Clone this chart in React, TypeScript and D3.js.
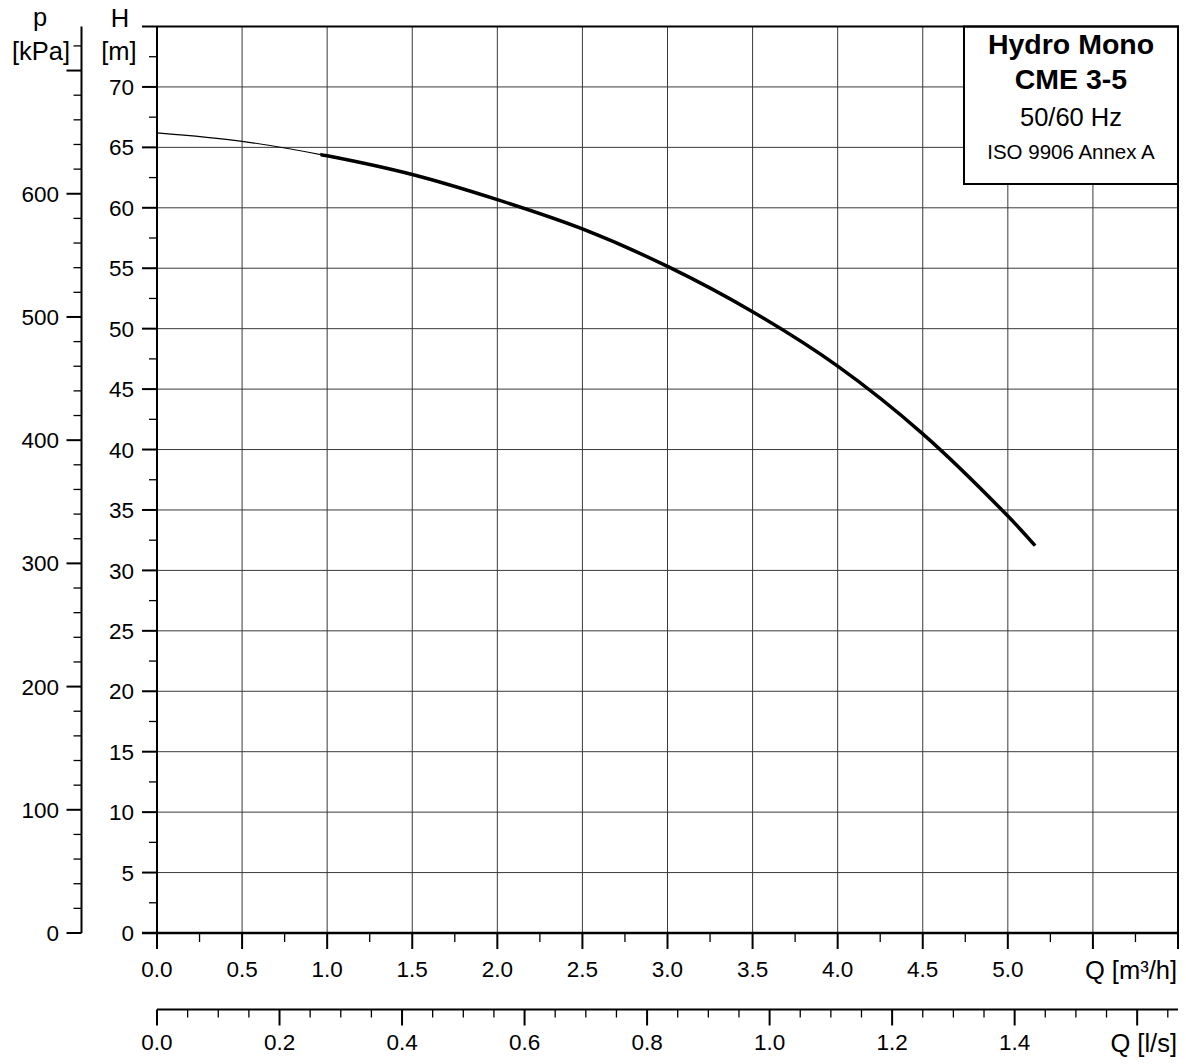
import * as d3 from 'd3'
import { useEffect, useRef } from 'react'

// pump curve: flow Q [m³/h] against head H [m]
const flowM3h = [0, 0.5, 1.0, 1.5, 2.0, 2.5, 3.0, 3.5, 4.0, 4.5, 5.0, 5.16]
const headM = [66.2, 65.5, 64.3, 62.75, 60.67, 58.25, 55.15, 51.4, 46.9, 41.3, 34.5, 32.05]
const minFlow = 0.96 // thin line below this

const headTicks = [0, 5, 10, 15, 20, 25, 30, 35, 40, 45, 50, 55, 60, 65, 70]
const kpaTicks = [0, 100, 200, 300, 400, 500, 600]
const flowTicks = [0, 0.5, 1, 1.5, 2, 2.5, 3, 3.5, 4, 4.5, 5]
const lsTicks = [0, 0.2, 0.4, 0.6, 0.8, 1.0, 1.2, 1.4]
const boxLines = ['Hydro Mono', 'CME 3-5', '50/60 Hz', 'ISO 9906 Annex A']

const W = 1186, H = 1064
const left = 157, right = 1178, top = 26.5, bottom = 933
const font = '"Liberation Sans", Arial, sans-serif'

const chart = (node: SVGSVGElement) => {
  const svg = d3.select(node)
  svg.selectAll('*').remove()

  const x = d3.scaleLinear().domain([0, 6]).range([left, right])
  const xl = d3.scaleLinear().domain([0, 6 / 3.6]).range([left, right])
  const y = d3.scaleLinear().domain([0, 75]).range([bottom, top])
  const yp = d3.scaleLinear().domain([0, 75 * 9.81]).range([bottom, top])

  svg.append('rect').attr('width', W).attr('height', H).attr('fill', '#fff')

  // grid
  const grid = svg.append('g').attr('stroke', '#3a3a3a').attr('stroke-width', 1)
  grid.selectAll('line.v')
    .data(d3.range(1, 12).map(i => i * 0.5))
    .join('line')
      .attr('x1', d => x(d)).attr('x2', d => x(d))
      .attr('y1', top).attr('y2', bottom)
  grid.selectAll('line.h')
    .data(d3.range(1, 15).map(i => i * 5))
    .join('line')
      .attr('x1', left).attr('x2', right)
      .attr('y1', d => y(d)).attr('y2', d => y(d))

  // curve
  const pts = flowM3h.map((q, i) => [q, headM[i]] as [number, number])
  const line = d3.line<[number, number]>()
    .x(d => x(d[0])).y(d => y(d[1]))
    .curve(d3.curveCatmullRom)
  svg.append('clipPath').attr('id', 'dutyClip')
    .append('rect')
      .attr('x', x(minFlow)).attr('y', 0)
      .attr('width', W).attr('height', H)
  svg.append('path').attr('d', line(pts))
    .attr('fill', 'none').attr('stroke', '#000').attr('stroke-width', 1.2)
  svg.append('path').attr('d', line(pts))
    .attr('clip-path', 'url(#dutyClip)')
    .attr('fill', 'none').attr('stroke', '#000').attr('stroke-width', 3.5)

  // legend box
  const bx = 964, by = top, bw = right - bx, bh = 184 - top
  svg.append('rect')
    .attr('x', bx).attr('y', by).attr('width', bw).attr('height', bh)
    .attr('fill', '#fff').attr('stroke', '#000').attr('stroke-width', 2)
  const bt = svg.append('g').attr('font-family', font).attr('text-anchor', 'middle').attr('fill', '#000')
  const sizes = [28.5, 28.5, 25.5, 20.5], weights = ['bold', 'bold', 'normal', 'normal'], bases = [54, 89, 126, 159]
  boxLines.forEach((t, i) => {
    bt.append('text').attr('x', bx + bw / 2).attr('y', bases[i])
      .attr('font-size', sizes[i]).attr('font-weight', weights[i]).text(t)
  })

  const ax = svg.append('g').attr('stroke', '#000').attr('fill', 'none')
  // frame: top, left (H axis), right
  ax.append('path').attr('stroke-width', 2)
    .attr('d', `M${left - 15},${top}H${right}V${bottom + 16}`)
  ax.append('line').attr('stroke-width', 2)
    .attr('x1', left).attr('x2', left).attr('y1', top).attr('y2', bottom)

  // H axis ticks
  ax.selectAll('line.hmaj').data(headTicks).join('line').attr('stroke-width', 2)
    .attr('x1', left - 15).attr('x2', left).attr('y1', d => y(d)).attr('y2', d => y(d))
  ax.selectAll('line.hmin').data(d3.range(0, 15).map(i => i * 5 + 2.5)).join('line').attr('stroke-width', 1.3)
    .attr('x1', left - 8).attr('x2', left).attr('y1', d => y(d)).attr('y2', d => y(d))

  // p axis
  const px = 81.5
  ax.append('line').attr('stroke-width', 2)
    .attr('x1', px).attr('x2', px).attr('y1', top).attr('y2', bottom)
  ax.selectAll('line.pmaj').data(d3.range(0, 8).map(i => i * 100)).join('line').attr('stroke-width', 2)
    .attr('x1', px - 15).attr('x2', px).attr('y1', d => yp(d)).attr('y2', d => yp(d))
  ax.selectAll('line.pmin').data(d3.range(0, 37).map(i => i * 20).filter(d => d % 100 !== 0)).join('line')
    .attr('stroke-width', 1.3)
    .attr('x1', px - 8).attr('x2', px).attr('y1', d => yp(d)).attr('y2', d => yp(d))

  // Q m3/h axis
  ax.append('line').attr('stroke-width', 2.5)
    .attr('x1', left - 15).attr('x2', right).attr('y1', bottom).attr('y2', bottom)
  ax.selectAll('line.qmaj').data(d3.range(0, 13).map(i => i * 0.5)).join('line').attr('stroke-width', 2)
    .attr('x1', d => x(d)).attr('x2', d => x(d)).attr('y1', bottom).attr('y2', bottom + 16)
  ax.selectAll('line.qmin').data(d3.range(0, 12).map(i => i * 0.5 + 0.25)).join('line').attr('stroke-width', 1.3)
    .attr('x1', d => x(d)).attr('x2', d => x(d)).attr('y1', bottom).attr('y2', bottom + 9)

  // Q l/s axis
  const ly = 1009.5
  ax.append('line').attr('stroke-width', 2)
    .attr('x1', left).attr('x2', right).attr('y1', ly).attr('y2', ly)
  ax.selectAll('line.lmaj').data(d3.range(0, 9).map(i => i * 0.2)).join('line').attr('stroke-width', 2)
    .attr('x1', d => xl(d)).attr('x2', d => xl(d)).attr('y1', ly).attr('y2', ly + 16)
  ax.selectAll('line.lmin').data(d3.range(0, 34).map(i => i * 0.05).filter(d => Math.round(d * 100) % 20 !== 0))
    .join('line').attr('stroke-width', 1.3)
    .attr('x1', d => xl(d)).attr('x2', d => xl(d)).attr('y1', ly).attr('y2', ly + 8)

  // labels
  const lab = svg.append('g').attr('font-family', font).attr('fill', '#000').attr('font-size', 22.5)
  lab.selectAll('text.h').data(headTicks).join('text')
    .attr('x', 134).attr('y', d => y(d)).attr('dy', '0.36em').attr('text-anchor', 'end').text(d => d)
  lab.selectAll('text.p').data(kpaTicks).join('text')
    .attr('x', 59).attr('y', d => yp(d)).attr('dy', '0.36em').attr('text-anchor', 'end').text(d => d)
  lab.selectAll('text.q').data(flowTicks).join('text')
    .attr('x', d => x(d)).attr('y', 977).attr('text-anchor', 'middle').text(d => d.toFixed(1))
  lab.selectAll('text.l').data(lsTicks).join('text')
    .attr('x', d => xl(d)).attr('y', 1050).attr('text-anchor', 'middle').text(d => d.toFixed(1))

  const big = svg.append('g').attr('font-family', font).attr('fill', '#000').attr('font-size', 25.5)
  big.append('text').attr('x', 1177).attr('y', 979).attr('text-anchor', 'end').text('Q [m³/h]')
  big.append('text').attr('x', 1177).attr('y', 1052).attr('text-anchor', 'end').text('Q [l/s]')
  big.append('text').attr('x', 40).attr('y', 26).attr('text-anchor', 'middle').text('p')
  big.append('text').attr('x', 41).attr('y', 60).attr('text-anchor', 'middle').text('[kPa]')
  big.append('text').attr('x', 120).attr('y', 27).attr('text-anchor', 'middle').text('H')
  big.append('text').attr('x', 119).attr('y', 60).attr('text-anchor', 'middle').text('[m]')
}

export default function App() {
  const ref = useRef<SVGSVGElement>(null)
  useEffect(() => {
    if (ref.current) chart(ref.current)
  }, [])
  return (
    <svg ref={ref} width={W} height={H}
      style={{ position: 'absolute', left: 0, top: 0, display: 'block' }} />
  )
}
